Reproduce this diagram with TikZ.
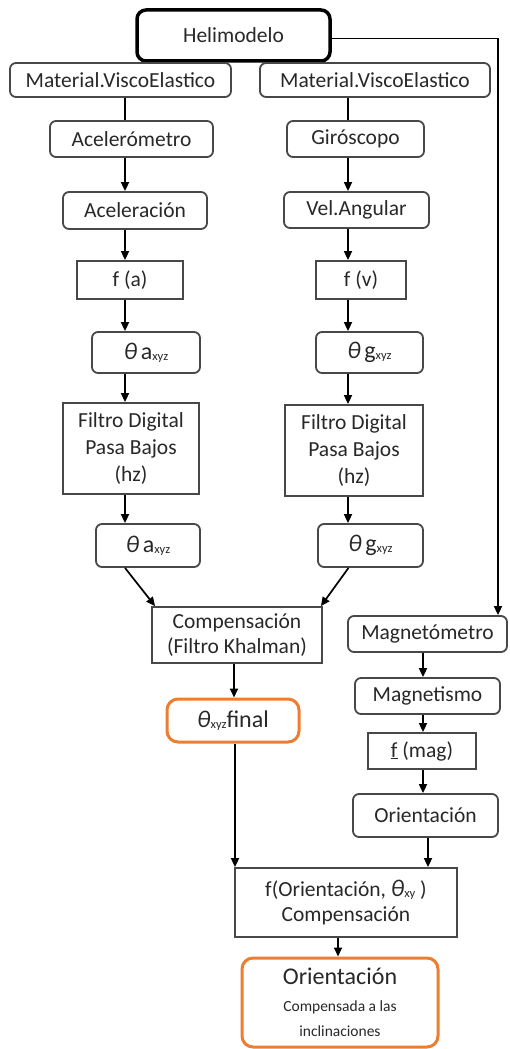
\documentclass[tikz,border=0pt]{standalone}
\usepackage{fontspec}
\setmainfont{Carlito}
\usetikzlibrary{arrows.meta,calc}
\definecolor{boxgray}{HTML}{484848}
\definecolor{txt}{HTML}{282828}
\definecolor{orangeb}{HTML}{ED7D31}
\newcommand\bx[7]{\node[#1,minimum width={(#5-#3)*1pt},minimum height={(#6-#4)*1pt}] (#2) at ({(#3+#5)/2},{(#4+#6)/2}) {#7};}
\newcommand\mysub[1]{\raisebox{-1pt}{\fontsize{12.5}{12}\selectfont #1}}
\newcommand\mytheta{{\fontsize{24}{24}\selectfont\itshape θ}}
\newcommand\mybig[1]{{\fontsize{24}{24}\selectfont #1}}
\begin{document}
\begin{tikzpicture}[x=1pt,y=-1pt,
 base/.style={draw=boxgray, line width=1.8pt, inner sep=0pt, align=center, text=txt, font=\fontsize{21.5}{25}\selectfont},
 rbox/.style={base, rounded corners=6pt},
 sbox/.style={base},
 hbox/.style={base, rounded corners=9pt, draw=black, line width=3.5pt},
 obox/.style={base, rounded corners=11pt, draw=orangeb, line width=3pt},
 arr/.style={-{Triangle[length=9pt,width=8pt]}, line width=1.7pt, draw=black},
 ln/.style={line width=1.7pt, draw=black}]
\fill[white] (0,0) rectangle (509,1049);
\useasboundingbox (0,0) rectangle (509,1049);
% boxes
\bx{hbox}{heli}{137}{10}{330}{61}{Helimodelo}
\bx{rbox}{mve1}{10}{63}{231}{97}{Material.ViscoElastico}
\bx{rbox}{mve2}{260}{63}{490}{97}{Material.ViscoElastico}
\bx{rbox}{acm}{50}{121}{213}{157}{Acelerómetro}
\bx{rbox}{gir}{287}{121}{424}{157}{Giróscopo}
\bx{rbox}{acl}{63}{192}{207}{229}{Aceleración}
\bx{rbox}{vel}{284}{192}{429}{228}{Vel.Angular}
\bx{sbox}{fa}{77}{261}{183}{299}{f (a)}
\bx{sbox}{fv}{316}{261}{406}{299}{f (v)}
\bx{rbox}{tha}{92}{332}{200}{373}{\mytheta\,\mybig{a}\mysub{xyz}}
\bx{rbox}{thg}{316}{332}{423}{373}{\mytheta\,\mybig{g}\mysub{xyz}}
\bx{sbox}{fil1}{63}{403}{199}{494}{Filtro Digital\\[2pt]Pasa Bajos\\[2pt](hz)}
\bx{sbox}{fil2}{285}{405}{423}{496}{Filtro Digital\\[2pt]Pasa Bajos\\[2pt](hz)}
\bx{rbox}{tha2}{96}{524}{200}{567}{\mytheta\,\mybig{a}\mysub{xyz}}
\bx{rbox}{thg2}{318}{524}{423}{567}{\mytheta\,\mybig{g}\mysub{xyz}}
\bx{sbox}{comp}{152}{607}{322}{663}{Compensación\\(Filtro Khalman)}
\bx{rbox}{mag}{348}{616}{507}{652}{Magnetómetro}
\bx{rbox}{mgs}{355}{678}{500}{714}{Magnetismo}
\bx{sbox}{fmag}{368}{733}{476}{769}{\underline{f} (mag)}
\bx{rbox}{ori}{353}{794}{498}{837}{Orientación}
\bx{obox}{thf}{167}{699}{299}{742}{\mytheta\mysub{xyz}\mybig{final}}
\bx{sbox}{fo}{235}{868}{457}{937}{f(Orientación, \mytheta\mysub{xy} )\\Compensación}
\bx{obox}{fin}{242}{958}{438}{1047}{\fontsize{24}{26}\selectfont Orientación\\[2pt]\fontsize{15.5}{20}\selectfont Compensada a las\\\fontsize{15.5}{20}\selectfont inclinaciones}
% column coordinates
\coordinate (lx) at (125,0);
\coordinate (rx) at (348,0);
\coordinate (cx) at (234,0);
\coordinate (mx) at (498,0);
\coordinate (gx) at (423,0);
\coordinate (ox) at (428,0);
\coordinate (fx) at (338,0);
\coordinate (tx) at (235,0);
% connectors left column
\draw[ln] (mve1.south -| lx) -- (acm.north -| lx);
\draw[arr] (acm.south -| lx) -- (acl.north -| lx);
\draw[arr] (acl.south -| lx) -- (fa.north -| lx);
\draw[arr] (fa.south -| lx) -- (tha.north -| lx);
\draw[arr] (tha.south -| lx) -- (fil1.north -| lx);
\draw[arr] (fil1.south -| lx) -- (tha2.north -| lx);
% right column
\draw[ln] (mve2.south -| rx) -- (gir.north -| rx);
\draw[arr] (gir.south -| rx) -- (vel.north -| rx);
\draw[arr] (vel.south -| rx) -- (fv.north -| rx);
\draw[arr] (fv.south -| rx) -- (thg.north -| rx);
\draw[arr] (thg.south -| rx) -- (fil2.north -| rx);
\draw[arr] (fil2.south -| rx) -- (thg2.north -| rx);
% merge
\draw[arr] ([xshift=-23pt]tha2.south) -- ([xshift=4pt]comp.north west);
\draw[arr] ([xshift=-22pt]thg2.south) -- ([xshift=-2pt]comp.north east);
\draw[arr] (comp.south -| cx) -- (thf.north -| cx);
% magnetometer branch
\draw[arr] ([yshift=-3pt]heli.east) -| (mag.north -| mx);
\draw[arr] (mag.south -| gx) -- (mgs.north -| gx);
\draw[arr] (mgs.south -| gx) -- (fmag.north -| gx);
\draw[arr] (fmag.south -| gx) -- (ori.north -| gx);
\draw[arr] (ori.south -| ox) -- (fo.north -| ox);
\draw[arr] (thf.south -| tx) -- (fo.north -| tx);
\draw[arr] (fo.south -| fx) -- (fin.north -| fx);
\end{tikzpicture}
\end{document}
